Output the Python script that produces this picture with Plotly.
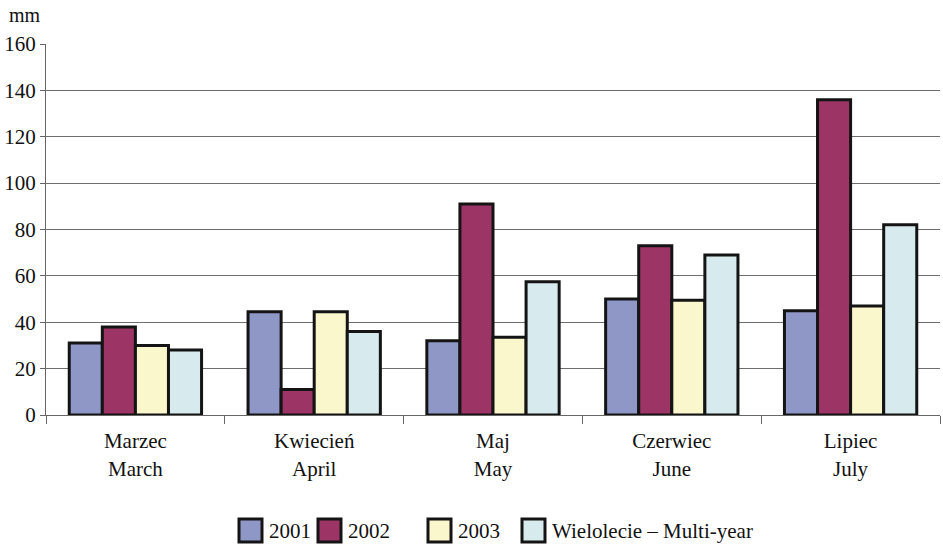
import plotly.graph_objects as go

# Monthly precipitation totals (mm)
months = ["Marzec<br>March", "Kwiecień<br>April", "Maj<br>May", "Czerwiec<br>June", "Lipiec<br>July"]
y2001 = [31, 44.5, 32, 50, 45]
y2002 = [38, 11, 91, 73, 136]
y2003 = [30, 44.5, 33.5, 49.5, 47]
multi_year = [28, 36, 57.5, 69, 82]

series_names = ["2001", "2002", "2003", "Wielolecie – Multi-year"]
series_colors = ["#8F97C7", "#9C3465", "#FAF7CD", "#D7EAED"]
series_values = [y2001, y2002, y2003, multi_year]

FONT = "Liberation Serif"
W, H = 943, 545
ML, MR, MT, MB = 46, 3, 44, 130
PW, PH = W - ML - MR, H - MT - MB


def px_x(p):
    return (p - ML) / PW


def px_y(p):
    return (H - MB - p) / PH


fig = go.Figure()
for name, color, vals in zip(series_names, series_colors, series_values):
    fig.add_trace(go.Bar(
        x=months, y=vals, name=name, showlegend=False,
        marker=dict(color=color, line=dict(color="#141414", width=3)),
    ))

# Legend drawn as boxed swatches with labels beneath the chart
legend_box_left = [239, 318, 428, 522]
shapes, annotations = [], []
for left, name, color in zip(legend_box_left, series_names, series_colors):
    shapes.append(dict(type="rect", xref="paper", yref="paper",
                       x0=px_x(left), x1=px_x(left + 23),
                       y0=px_y(542), y1=px_y(519),
                       fillcolor=color, line=dict(color="#141414", width=3)))
    annotations.append(dict(text=name, xref="paper", yref="paper",
                            x=px_x(left + 28), y=px_y(531),
                            xanchor="left", yanchor="middle", showarrow=False,
                            font=dict(family=FONT, size=21)))

annotations.append(dict(text="mm", xref="paper", yref="paper", x=px_x(7), y=px_y(15),
                        xanchor="left", yanchor="middle", showarrow=False,
                        font=dict(family=FONT, size=20)))

fig.update_layout(
    width=W, height=H,
    margin=dict(l=ML, r=MR, t=MT, b=MB, autoexpand=False),
    paper_bgcolor="white", plot_bgcolor="white",
    barmode="group", bargap=0.26, bargroupgap=0,
    font=dict(family=FONT, size=20, color="#111111"),
    showlegend=False,
    xaxis=dict(
        showline=True, linecolor="#666666", linewidth=1,
        ticks="outside", tickson="boundaries", ticklen=8, tickcolor="#666666",
        tickfont=dict(family=FONT, size=21), ticklabelstandoff=7,
    ),
    yaxis=dict(
        range=[0, 160], dtick=20, showgrid=True, gridcolor="#6e6e6e", gridwidth=1,
        showline=True, linecolor="#666666", linewidth=1,
        ticks="outside", ticklen=5, tickcolor="#666666",
        tickfont=dict(family=FONT, size=21), zeroline=False,
    ),
    shapes=shapes,
    annotations=annotations,
)

fig.write_html("out.html")
